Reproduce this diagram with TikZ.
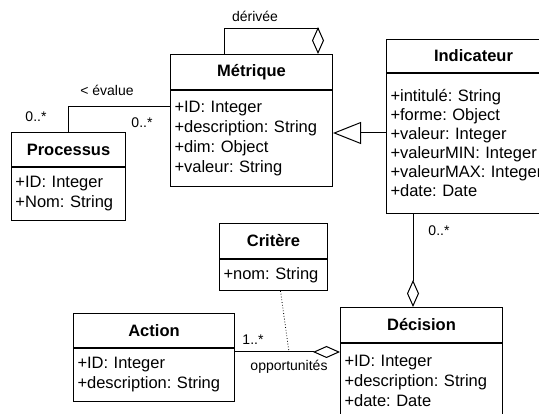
\documentclass[tikz,border=0pt]{standalone}
\usepackage{fontspec}
\setmainfont{Liberation Sans}
\usetikzlibrary{arrows.meta}

\newcommand{\attrfont}{\frenchspacing\fontsize{16.5}{20}\selectfont}
\newcommand{\labfont}{\fontsize{14}{16}\selectfont}

\begin{document}
\begin{tikzpicture}[x=1pt, y=-1pt,
    classhead/.style={draw, line width=1pt, anchor=north west, inner sep=0pt, font=\bfseries\attrfont},
    classbody/.style={draw, line width=1pt, anchor=north west, inner xsep=4pt, inner ysep=0pt, align=left, font=\attrfont},
    assoc/.style={line width=1pt},
    aggr/.style={line width=1pt, -{Diamond[open, length=27pt, width=12pt]}},
    gen/.style={line width=1pt, -{Triangle[open, length=28pt, width=22pt]}},
    lab/.style={inner sep=0pt, font=\labfont}]
    % Page area (539 x 414), everything outside is cut
    \useasboundingbox (0,0) rectangle (539,414);
    \fill[white] (0,0) rectangle (539,414);
    \clip (0,0) rectangle (539,414);

    % Metrique
    \node[classhead, minimum width=162pt, minimum height=35pt] (metrique) at (170,54) {Métrique};
    \node[classbody, text width=154pt, minimum height=96pt] (metriqueattr) at (metrique.south west)
        {+ID: Integer\\+description: String\\+dim: Object\\+valeur: String};

    % Processus
    \node[classhead, minimum width=114pt, minimum height=34pt] (processus) at (11,132) {Processus};
    \node[classbody, text width=106pt, minimum height=53pt] (processusattr) at (processus.south west)
        {+ID: Integer\\+Nom: String};

    % Indicateur (cut at the right border)
    \node[classhead, minimum width=174pt, minimum height=33pt] (indicateur) at (386,39) {Indicateur};
    \node[classbody, text width=166pt, minimum height=140pt, font=\frenchspacing\fontsize{16.5}{19}\selectfont] (indicateurattr) at (indicateur.south west)
        {+intitulé: String\\+forme: Object\\+valeur: Integer\\+valeurMIN: Integer\\+valeurMAX: Integer\\+date: Date};

    % Critere
    \node[classhead, minimum width=108pt, minimum height=35pt] (critere) at (219,223) {Critère};
    \node[classbody, text width=100pt, minimum height=31pt] (critereattr) at (critere.south west)
        {+nom: String};

    % Action
    \node[classhead, minimum width=161pt, minimum height=34pt] (action) at (73,313) {Action};
    \node[classbody, text width=153pt, minimum height=53pt] (actionattr) at (action.south west)
        {+ID: Integer\\+description: String};

    % Decision (cut at the bottom border)
    \node[classhead, minimum width=162pt, minimum height=35pt] (decision) at (340,307) {Décision};
    \node[classbody, text width=154pt, minimum height=75pt] (decisionattr) at (decision.south west)
        {+ID: Integer\\+description: String\\+date: Date};

    % derivee: Metrique aggregates itself
    \coordinate (loopA) at (224,29);
    \coordinate (loopB) at (318,29);
    \draw[aggr] (loopA |- metrique.north) -- (loopA) -| (loopB |- metrique.north);
    \node[lab] (derivee) at (255,16) {dérivée};

    % evalue between Processus and Metrique
    \coordinate (evalue) at ([yshift=-17pt]metriqueattr.north west);
    \draw[assoc] (processus.north) |- (evalue);
    \node[lab] (evaluelab) at (107,90) {< évalue};
    \node[lab] (multproc) at (36,117) {0..*};
    \node[lab] (multmet) at (142,123) {0..*};

    % Indicateur is a Metrique
    \coordinate (genfoot) at ([yshift=-60pt]indicateurattr.north west);
    \draw[gen] (genfoot) -- (genfoot -| metriqueattr.east);

    % Indicateur -- Decision
    \coordinate (aggtop) at ([xshift=27pt]indicateurattr.south west);
    \draw[aggr] (aggtop) -- (aggtop |- decision.north);
    \node[lab] (multind) at (439,231) {0..*};

    % opportunites between Action and Decision, Critere as association class
    \coordinate (oppA) at ([yshift=-4pt]actionattr.north east);
    \coordinate (oppmid) at ([xshift=54pt]oppA);
    \draw[aggr] (oppA) -- (oppA -| decisionattr.west);
    \draw[dotted, line width=0.8pt] ([xshift=7pt]critereattr.south) -- (oppmid);
    \node[lab] (multact) at (253,340) {1..*};
    \node[lab] (opplab) at (289,367) {opportunités};
\end{tikzpicture}
\end{document}
